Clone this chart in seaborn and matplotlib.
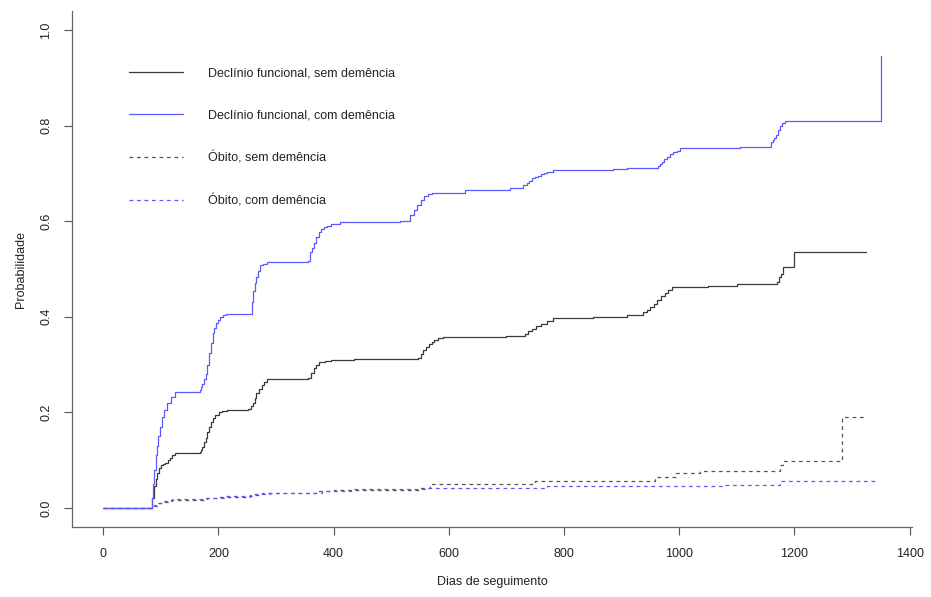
import numpy as np
import pandas as pd
import matplotlib
matplotlib.use("Agg")
import matplotlib.pyplot as plt
import seaborn as sns

# ── Data: (day, cumulative probability) step points ──
DF_SEM = [(0, 0), (85, 0.02), (88, 0.045), (91, 0.06), (94, 0.073), (97, 0.083),
          (100, 0.09), (104, 0.092), (108, 0.093), (112, 0.1), (116, 0.105),
          (120, 0.11), (125, 0.115), (168, 0.117), (170, 0.122), (172, 0.128),
          (175, 0.137), (178, 0.146), (181, 0.158), (184, 0.17), (187, 0.18),
          (191, 0.188), (195, 0.195), (201, 0.2), (207, 0.203), (215, 0.205),
          (252, 0.207), (256, 0.213), (260, 0.22), (263, 0.23), (266, 0.24),
          (270, 0.249), (275, 0.257), (279, 0.264), (284, 0.27), (356, 0.272),
          (361, 0.283), (366, 0.293), (370, 0.3), (374, 0.305), (385, 0.308),
          (395, 0.31), (436, 0.312), (547, 0.314), (551, 0.322), (555, 0.33),
          (560, 0.337), (565, 0.343), (570, 0.348), (575, 0.352), (582, 0.355),
          (590, 0.357), (640, 0.358), (700, 0.36), (732, 0.365), (738, 0.37),
          (745, 0.375), (752, 0.38), (760, 0.385), (770, 0.391), (781, 0.397),
          (850, 0.399), (909, 0.404), (937, 0.41), (944, 0.415), (950, 0.42),
          (956, 0.427), (962, 0.435), (968, 0.443), (975, 0.45), (981, 0.456),
          (987, 0.462), (1050, 0.465), (1100, 0.468), (1169, 0.473),
          (1173, 0.483), (1176, 0.49), (1180, 0.505), (1199, 0.535),
          (1325, 0.535)]

DF_COM = [(0, 0), (85, 0.02), (87, 0.05), (89, 0.08), (91, 0.11), (93, 0.13),
          (95, 0.15), (98, 0.17), (102, 0.19), (106, 0.205), (111, 0.22),
          (117, 0.233), (125, 0.243), (168, 0.247), (170, 0.253), (172, 0.26),
          (175, 0.27), (178, 0.28), (181, 0.3), (184, 0.324), (187, 0.345),
          (190, 0.366), (193, 0.377), (196, 0.387), (200, 0.394), (203, 0.40),
          (208, 0.403), (214, 0.406), (258, 0.43), (261, 0.455), (263, 0.47),
          (265, 0.483), (268, 0.496), (272, 0.508), (278, 0.511), (284, 0.514),
          (356, 0.517), (359, 0.535), (362, 0.545), (366, 0.554), (370, 0.566),
          (374, 0.577), (378, 0.583), (383, 0.588), (389, 0.591), (395, 0.594),
          (411, 0.598), (515, 0.60), (533, 0.613), (539, 0.623), (545, 0.634),
          (551, 0.645), (557, 0.652), (564, 0.656), (571, 0.659), (628, 0.665),
          (706, 0.67), (729, 0.675), (735, 0.68), (740, 0.685), (745, 0.69),
          (750, 0.693), (755, 0.695), (760, 0.698), (765, 0.70), (770, 0.703),
          (781, 0.707), (885, 0.709), (909, 0.711), (963, 0.715), (967, 0.72),
          (970, 0.725), (974, 0.73), (978, 0.735), (984, 0.74), (990, 0.744),
          (996, 0.748), (1001, 0.753), (1105, 0.756), (1160, 0.765),
          (1163, 0.77), (1165, 0.775), (1168, 0.78), (1172, 0.79), (1175, 0.80),
          (1178, 0.805), (1183, 0.81), (1351, 0.946)]

OB_SEM = [(0, 0), (88, 0.005), (95, 0.01), (105, 0.013), (118, 0.017),
          (175, 0.02), (200, 0.023), (255, 0.027), (275, 0.031), (370, 0.035),
          (400, 0.038), (550, 0.042), (567, 0.05), (750, 0.056), (958, 0.065),
          (995, 0.073), (1036, 0.077), (1175, 0.09), (1180, 0.098),
          (1282, 0.19), (1325, 0.19)]

OB_COM = [(0, 0), (88, 0.006), (95, 0.011), (105, 0.015), (120, 0.018),
          (180, 0.021), (210, 0.024), (260, 0.029), (290, 0.032), (380, 0.036),
          (430, 0.039), (560, 0.042), (770, 0.046), (1079, 0.048),
          (1175, 0.056), (1345, 0.056)]

LABELS = ["Declínio funcional, sem demência", "Declínio funcional, com demência",
          "Óbito, sem demência", "Óbito, com demência"]

BLACK = "#3a3a3a"
GREY = "#555555"
BLUE = "#5a5aff"

sns.set_theme(style="ticks")
plt.rcParams['font.family'] = ['Liberation Sans', 'DejaVu Sans']

fig = plt.figure(figsize=(9.31, 5.97), dpi=100)
ax = fig.add_axes([72 / 931, 70 / 597, 840 / 931, 516 / 597])

series = [
    (DF_SEM, BLACK, "-"),
    (DF_COM, BLUE, "-"),
    (OB_SEM, GREY, (0, (3, 3))),
    (OB_COM, BLUE, (0, (3, 3))),
]
for (pts, col, ls), lab in zip(series, LABELS):
    d = pd.DataFrame(pts, columns=["dias", "prob"])
    sns.lineplot(data=d, x="dias", y="prob", ax=ax, color=col, linestyle=ls,
                 linewidth=0.9, drawstyle="steps-post", estimator=None,
                 label=lab)

ax.set_xlim(-54, 1404)
ax.set_ylim(-0.04, 1.04)
ax.set_xticks(range(0, 1401, 200))
ax.set_yticks([0, 0.2, 0.4, 0.6, 0.8, 1.0])
ax.set_yticklabels(["0.0", "0.2", "0.4", "0.6", "0.8", "1.0"], rotation=90,
                   va="center")
ax.tick_params(axis="both", direction="out", length=6, width=0.8,
               color="#555555", labelsize=9, labelcolor="#222222")
ax.tick_params(axis="x", pad=9)
ax.tick_params(axis="y", pad=8)
for side in ["top", "right"]:
    ax.spines[side].set_visible(False)
for side in ["left", "bottom"]:
    ax.spines[side].set_color("#666666")
    ax.spines[side].set_linewidth(0.9)

ax.set_xlabel("Dias de seguimento", fontsize=9, color="#222222", labelpad=12)
ax.set_ylabel("Probabilidade", fontsize=9, color="#222222", labelpad=10)

leg = ax.legend(loc="upper left", bbox_to_anchor=(0.068, 0.89), frameon=False,
                fontsize=9, handlelength=4.3, handletextpad=2.0,
                labelspacing=2.4, borderpad=0, borderaxespad=0)
for t in leg.get_texts():
    t.set_color("#222222")

fig.savefig("out.png", dpi=100)
